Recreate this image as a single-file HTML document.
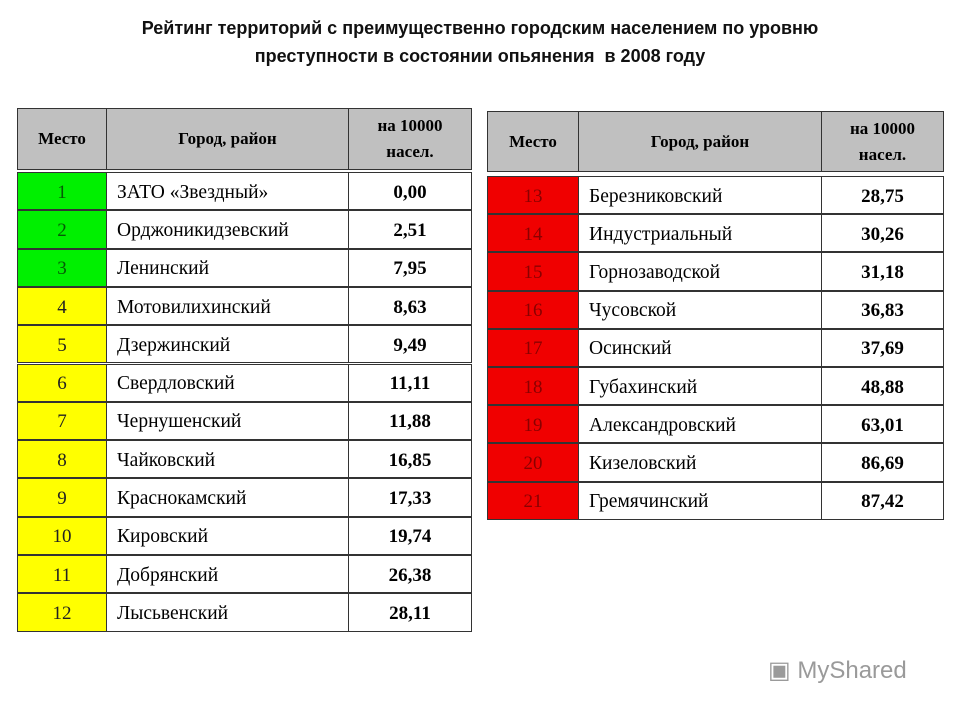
<!DOCTYPE html>
<html><head><meta charset="utf-8">
<style>
body{margin:0;width:960px;height:720px;background:#fff;position:relative;overflow:hidden;font-family:"Liberation Serif",serif}
.t{position:absolute;left:0;width:960px;text-align:center;font:bold 18px "Liberation Sans",sans-serif;color:#111}
.c{position:absolute;box-sizing:border-box;display:flex;align-items:center;color:#000;padding-top:3px}
.h{background:#c0c0c0;font-weight:bold;font-size:17px;justify-content:center;text-align:center;line-height:26px;padding-top:0}
.wm{position:absolute;left:768px;top:656px;font:24px "Liberation Sans",sans-serif;color:#9a9a9a}
</style></head><body>
<div class="t" style="top:18px">Рейтинг территорий с преимущественно городским населением по уровню</div>
<div class="t" style="top:46px">преступности в состоянии опьянения&nbsp; в 2008 году</div>
<div class="wm">▣ MyShared</div>
<div id="root"></div>
<script>
const ranks=[1,2,3,4,5,6,7,8,9,10,11,12,13,14,15,16,17,18,19,20,21];
const names=["ЗАТО «Звездный»","Орджоникидзевский","Ленинский","Мотовилихинский","Дзержинский","Свердловский","Чернушенский","Чайковский","Краснокамский","Кировский","Добрянский","Лысьвенский","Березниковский","Индустриальный","Горнозаводской","Чусовской","Осинский","Губахинский","Александровский","Кизеловский","Гремячинский"];
const values=["0,00","2,51","7,95","8,63","9,49","11,11","11,88","16,85","17,33","19,74","26,38","28,11","28,75","30,26","31,18","36,83","37,69","48,88","63,01","86,69","87,42"];
const groups=["green","green","green","yellow","yellow","yellow","yellow","yellow","yellow","yellow","yellow","yellow","red","red","red","red","red","red","red","red","red"];
const headers=["Место","Город, район","на 10000<br>насел."];
const fills={green:["#00f000","#065a06"],yellow:["#ffff00","#222"],red:["#f00000","#8a0000"]};
const tables=[{x:[17,107,349,472],top:108,hb:170,rs:172,rh:38.3,from:0,to:12},
              {x:[487,579,822,944],top:111,hb:172,rs:176,rh:38.2,from:12,to:21}];
const root=document.getElementById('root');
function cell(x,y,w,h,cls,html,style){
  const d=document.createElement('div');d.className='c '+cls;
  d.style.cssText=`left:${x}px;top:${y}px;width:${w}px;height:${h}px;`+style;
  d.innerHTML=html;root.appendChild(d);return d;}
tables.forEach((t,ti)=>{
  headers.forEach((hd,i)=>{
    const d=cell(t.x[i],t.top,t.x[i+1]-t.x[i],t.hb-t.top,'h',hd,'border:1.5px solid #333;'+(i>0?'border-left:none;':''));
    
    
  });
  for(let k=t.from;k<t.to;k++){
    const y=t.rs+(k-t.from)*t.rh;const h=t.rh;const f=fills[groups[k]];
    const b='border:1px solid #333;';
    const a=cell(t.x[0],y,t.x[1]-t.x[0],h,'',ranks[k],b+`background:${f[0]};color:${f[1]};justify-content:center;font-size:19px;`);
    
    
    const n=cell(t.x[1],y,t.x[2]-t.x[1],h,'',names[k],b+'border-left:none;padding-left:10px;font-size:19.5px;');
    
    
    const v=cell(t.x[2],y,t.x[3]-t.x[2],h,'',values[k],b+'border-left:none;justify-content:center;font-weight:bold;font-size:19px;');
    
    
  }
});
</script>
</body></html>
